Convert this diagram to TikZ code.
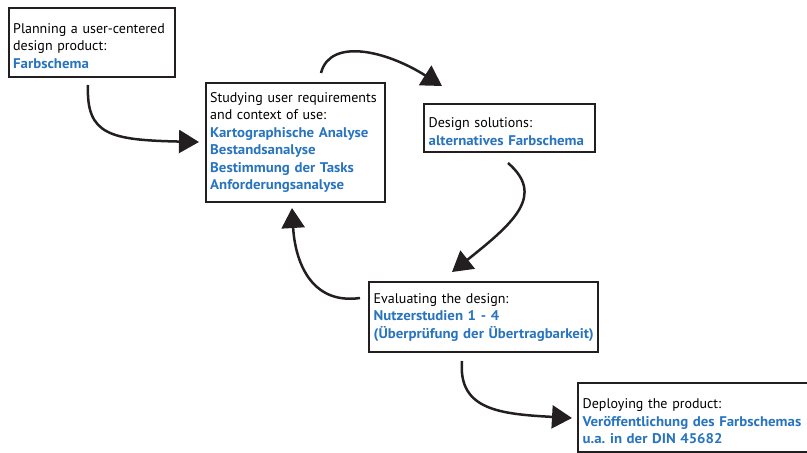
\documentclass[tikz,border=0pt]{standalone}
\usepackage{fontspec}
\setmainfont{PT Sans}[BoldFeatures={FakeStretch=1.06}]
\usetikzlibrary{arrows.meta}
\definecolor{edge}{RGB}{35,31,32}
\definecolor{hl}{RGB}{40,116,190}
\frenchspacing
\tikzset{
  stage/.style={draw=edge, line width=2.4pt, fill=white, rectangle,
    anchor=north west, align=left, inner xsep=4.5pt, inner ysep=0pt,
    font=\fontsize{14}{17.5}\selectfont, text=black},
  flow/.style={draw=edge, line width=2.5pt,
    -{Triangle[length=20pt,width=23pt]}},
}
\newcommand{\hlt}[1]{\mbox{\textcolor{hl}{\bfseries #1}}}
% taller first line: pushes a text block a little lower in its box
\newcommand{\dropline}{\rule{0pt}{17pt}}
\begin{document}
\begin{tikzpicture}[x=1pt,y=-1pt]
\useasboundingbox (0,0) rectangle (807,453);

% process stages
\node[stage, minimum width=166.5pt, minimum height=69pt, text width=157.5pt] (plan) at (7.5,6.5)
  {\dropline Planning a user-centered\\design product:\\\hlt{Farbschema}};
\node[stage, minimum width=179pt, minimum height=118.5pt, text width=170pt] (study) at (204.5,82)
  {Studying user requirements\\and context of use:\\\hlt{Kartographische Analyse}\\\hlt{Bestandsanalyse}\\\hlt{Bestimmung der Tasks}\\\hlt{Anforderungsanalyse}};
\node[stage, minimum width=171pt, minimum height=48pt, text width=162pt] (design) at (423,103)
  {\dropline Design solutions:\\\hlt{alternatives Farbschema}};
\node[stage, minimum width=229pt, minimum height=70pt, text width=220pt] (eval) at (368,281)
  {Evaluating the design:\\\hlt{Nutzerstudien 1 - 4}\\\hlt{(Überprüfung der Übertragbarkeit)}};
\node[stage, minimum width=245pt, minimum height=69pt, text width=236pt] (deploy) at (577,382)
  {\dropline Deploying the product:\\\hlt{Veröffentlichung des Farbschemas}\\\hlt{u.a. in der DIN 45682}};

% loose ends of the connectors
\coordinate (p1) at (88,85);   \coordinate (q1) at (199,142);
\coordinate (p2) at (321,73);  \coordinate (q2) at (442,86);
\coordinate (p3) at (508,163); \coordinate (q3) at (452,272);
\coordinate (p4) at (360,298); \coordinate (q4) at (292,208);
\coordinate (p5) at (462,361); \coordinate (q5) at (572,418);

% connectors
\draw[flow] (p1) .. controls (86,135) and (110,140) .. (q1);
\draw[flow] (p2) .. controls (330,38) and (385,50) .. (q2);
\draw[flow] (p3) .. controls (545,195) and (515,222) .. (q3);
\draw[flow] (p4) .. controls (310,305) and (295,260) .. (q4);
\draw[flow] (p5) .. controls (458,410) and (500,414) .. (q5);
\end{tikzpicture}
\end{document}
